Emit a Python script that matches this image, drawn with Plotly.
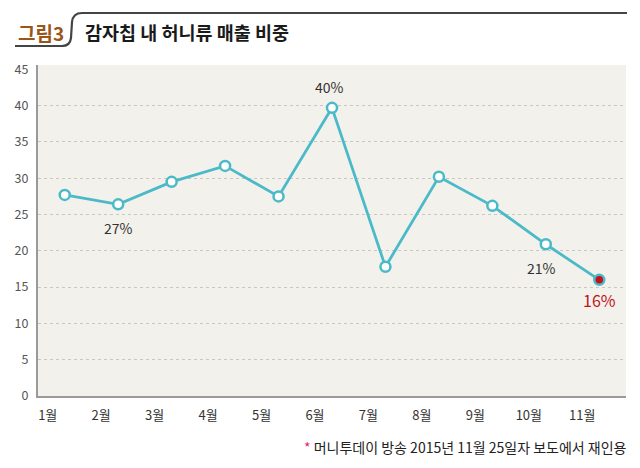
import plotly.graph_objects as go

months = ["1월", "2월", "3월", "4월", "5월", "6월", "7월", "8월", "9월", "10월", "11월"]
share = [27.7, 26.4, 29.5, 31.7, 27.5, 39.7, 17.8, 30.2, 26.2, 20.9, 16.0]
y_ticks = [0, 5, 10, 15, 20, 25, 30, 35, 40, 45]
grid_vals = [5, 10, 15, 20, 25, 30, 35, 40]
# labelled points: (index, text, xshift, yshift, color, size)
labels = [
    (1, "27%", 0, -24, "#333333", 14),
    (5, "40%", -3, 21, "#333333", 14),
    (9, "21%", -4, -24, "#333333", 14),
    (10, "16%", 0, -20, "#c0141c", 16),
]

TEAL = "#4bbac8"
FONT = "Noto Sans CJK KR"

W, H = 640, 468
ML, MR, MT, MB = 38, 14, 65, 72
PW, PH = W - ML - MR, H - MT - MB

def px(x):
    return (x - ML) / PW

def py(y):
    return (H - MB - y) / PH

fill = ["white"] * len(share)
fill[-1] = "#c8101a"

fig = go.Figure()
fig.add_trace(go.Scatter(
    x=months, y=share, mode="lines+markers",
    line=dict(color=TEAL, width=2.8),
    marker=dict(size=10, color=fill, line=dict(color=TEAL, width=2.5)),
    hoverinfo="skip", showlegend=False,
))

for i, txt, xs, ys, col, sz in labels:
    fig.add_annotation(x=months[i], y=share[i], text=txt, showarrow=False,
                       xshift=xs, yshift=ys,
                       font=dict(family=FONT, size=sz, color=col))

# header decoration
path = (f"M {px(15)},{py(46)} L {px(62)},{py(46)} "
        f"Q {px(70)},{py(46)} {px(71)},{py(38)} L {px(72)},{py(22)} "
        f"Q {px(73)},{py(13)} {px(82)},{py(13)} L {px(627)},{py(13)}")
fig.add_shape(type="path", path=path, xref="paper", yref="paper",
              line=dict(color="#444444", width=2.2))

fig.add_annotation(xref="paper", yref="paper", x=px(16), y=py(32),
                   xanchor="left", yanchor="middle", text="<b>그림3</b>",
                   showarrow=False, font=dict(family=FONT, size=19, color="#9a5518"))
fig.add_annotation(xref="paper", yref="paper", x=px(83), y=py(32),
                   xanchor="left", yanchor="middle", text="<b>감자칩 내 허니류 매출 비중</b>",
                   showarrow=False, font=dict(family=FONT, size=18.5, color="#1a1a1a"))
fig.add_annotation(xref="paper", yref="paper", x=px(629), y=py(447),
                   xanchor="right", yanchor="middle",
                   text="<span style='color:#e8267a'>*</span> 머니투데이 방송 2015년 11월 25일자 보도에서 재인용",
                   showarrow=False, font=dict(family=FONT, size=14, color="#222222"))

fig.update_layout(
    width=W, height=H,
    margin=dict(l=ML, r=MR, t=MT, b=MB),
    paper_bgcolor="white",
    plot_bgcolor="#f3f1ec",
    xaxis=dict(
        type="category", range=[-0.5, 10.5],
        showgrid=False, zeroline=False,
        showline=True, linecolor="#9a9a9a", linewidth=2,
        ticks="", ticklabelshift=-17, ticklabelstandoff=6,
        tickfont=dict(family=FONT, size=13, color="#333333"),
    ),
    yaxis=dict(
        range=[0, 45.6], tickvals=y_ticks,
        showgrid=False, zeroline=False,
        showline=True, linecolor="#9a9a9a", linewidth=2,
        ticks="", ticklabelstandoff=5,
        tickfont=dict(family=FONT, size=12.5, color="#555555"),
        minor=dict(tickvals=grid_vals, showgrid=True, gridcolor="#c9c7c2",
                   griddash="dot", gridwidth=1, ticks=""),
    ),
)

fig.write_html("out.html")
